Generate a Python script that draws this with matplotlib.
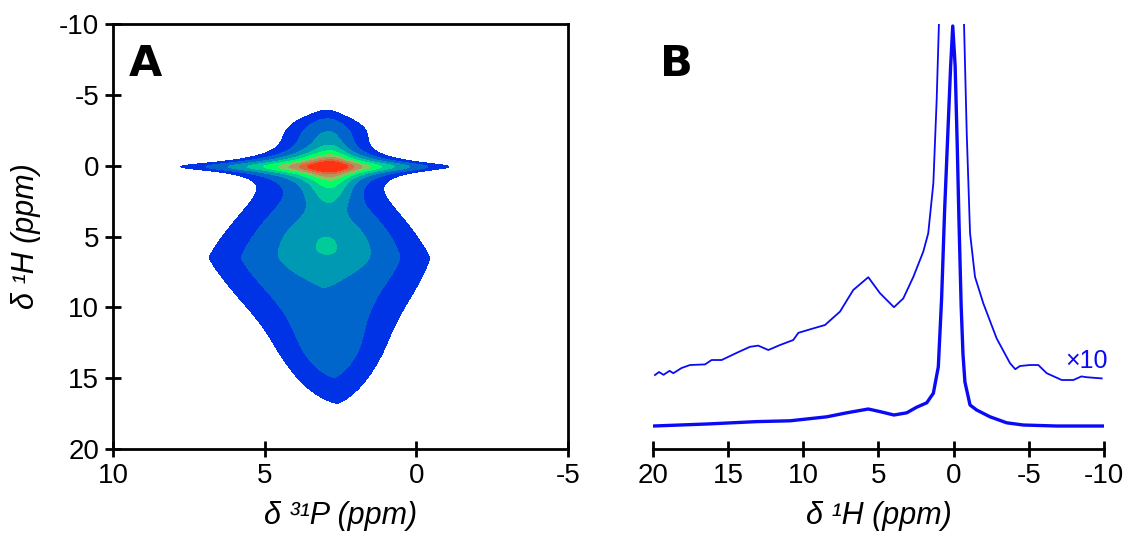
import numpy as np
import matplotlib.pyplot as plt

plt.rcParams.update({'font.size': 20})
plt.rcParams['font.family'] = ['Liberation Sans', 'DejaVu Sans']

# ---------------- panel A: 31P-1H correlation map ----------------
# peaks (ppm); widths: P-left / P-right, H-up / H-down
peak_names = ["streak", "blob", "core", "neck", "cap", "tail"]
peak_amp = [1.0, 0.045, 0.023, 0.025, 0.016, 0.010]
peak_p = [2.84, 3.2, 2.92, 2.84, 2.85, 2.85]
peak_h = [0.07, 6.5, 5.7, 1.6, -2.5, 13.5]
peak_wp_left = [0.67, 2.93, 1.0, 0.45, 1.25, 1.2]
peak_wp_right = [0.52, 2.93, 1.0, 0.45, 1.25, 1.2]
peak_wh_up = [0.32, 6.0, 1.5, 0.95, 0.95, 2.0]
peak_wh_down = [0.32, 7.0, 1.2, 0.95, 0.95, 3.0]
peak_outline = [2.0, 1.2, 2.0, 2.0, 2.0, 2.0]   # superellipse exponent
peak_tilt = [0.0, -0.06, 0.0, 0.0, 0.0, 0.0]    # P drift of the centre below it

levels = [0.021, 0.031, 0.046, 0.068, 0.10, 0.15, 0.22, 0.33, 0.48]
level_colors = ["#0033e6", "#0066cc", "#0099b3", "#00cc99", "#00ff66",
                "#80c860", "#b89060", "#e06535", "#ff3314"]

# ---------------- panel B: 1H projection ----------------
h_x10 = [19.87, 19.6, 19.3, 18.9, 18.65, 18.1, 17.54, 16.54, 16.10, 15.43, 14.43,
         13.55, 13.0, 12.33, 11.55, 10.67, 10.33, 9.34, 8.56, 7.56, 6.68, 5.68,
         4.90, 3.97, 3.35, 2.68, 2.02, 1.69, 1.35, 1.13, 0.98, 0.8, -0.5, -0.69,
         -0.87, -1.09, -1.42, -1.97, -2.86, -3.75, -4.1, -4.41, -5.08, -5.63,
         -6.19, -7.19, -7.96, -8.5, -8.85, -9.85]
i_x10 = [0.1275, 0.135, 0.128, 0.138, 0.132, 0.145, 0.1525, 0.154, 0.165, 0.165,
         0.183, 0.198, 0.201, 0.19, 0.2025, 0.215, 0.233, 0.244, 0.2525, 0.286,
         0.34, 0.372, 0.332, 0.297, 0.319, 0.373, 0.436, 0.482, 0.607, 0.815,
         1.005, 1.3, 1.3, 1.005, 0.7325, 0.4825, 0.373, 0.307, 0.219, 0.157,
         0.142, 0.150, 0.1525, 0.1525, 0.132, 0.115, 0.115, 0.124, 0.122, 0.119]

h_main = [19.98, 16.43, 13.10, 10.89, 8.44, 7.11, 5.68, 4.90, 3.97, 3.12, 2.46,
          1.79, 1.35, 1.02, 0.80, 0.60, 0.40, 0.20, 0.06, -0.10, -0.24, -0.35,
          -0.50, -0.62, -0.75, -1.09, -1.53, -2.42, -3.53, -4.63, -6.85, -9.96]
i_main = [0.0, 0.005, 0.011, 0.013, 0.023, 0.033, 0.0425, 0.036, 0.0275, 0.033,
          0.047, 0.058, 0.082, 0.148, 0.32, 0.54, 0.72, 0.90, 1.0, 0.90, 0.70,
          0.52, 0.30, 0.18, 0.11, 0.0525, 0.04, 0.023, 0.008, 0.0025, 0.0, 0.0]

blue = '#0a0af5'


def peak_field(P, H, i):
    hc = peak_h[i]
    pc = peak_p[i] + peak_tilt[i] * np.clip(H - hc, 0, None)
    dx = (P - pc) / np.where(P > pc, peak_wp_left[i], peak_wp_right[i])
    dy = (H - hc) / np.where(H < hc, peak_wh_up[i], peak_wh_down[i])
    if peak_names[i] == "streak":
        # sharp ridge: Lorentzian in both directions
        return peak_amp[i] / ((1 + dx ** 2) * (1 + dy ** 2))
    e = peak_outline[i]
    rho = (np.abs(dx) ** e + np.abs(dy) ** e) ** (1 / e)
    return peak_amp[i] * np.exp(-0.5 * rho ** 2)


p_axis = np.linspace(10, -5, 700)
h_axis = np.linspace(-10, 20, 700)
P, H = np.meshgrid(p_axis, h_axis)
Z = sum(peak_field(P, H, i) for i in range(len(peak_names)))

fig = plt.figure(figsize=(11.28, 5.4), dpi=100)
axA = fig.add_axes([0.1002, 0.1685, 0.4034, 0.787])
axB = fig.add_axes([0.5789, 0.1685, 0.3998, 0.787])

axA.contourf(P, H, Z, levels=levels + [Z.max() + 1], colors=level_colors)
axA.set_xlim(10, -5)
axA.set_ylim(20, -10)
axA.set_xticks([10, 5, 0, -5])
axA.set_yticks([-10, -5, 0, 5, 10, 15, 20])
axA.set_xticklabels(["10", "5", "0", "-5"])
axA.set_yticklabels(["-10", "-5", "0", "5", "10", "15", "20"])
for s in axA.spines.values():
    s.set_linewidth(2)
axA.tick_params(direction='inout', length=12, width=2, pad=4)
axA.set_xlabel("δ ³¹P (ppm)", style='italic', fontsize=22, labelpad=9)
axA.set_ylabel("δ ¹H (ppm)", style='italic', fontsize=22, labelpad=13)
axA.text(0.035, 0.878, "A", transform=axA.transAxes, fontsize=31,
         fontweight='heavy', family='DejaVu Sans', va='baseline', ha='left')

axB.plot(h_x10, i_x10, color=blue, lw=1.3)
axB.plot(h_main, i_main, color=blue, lw=2.4)
axB.set_xlim(20, -10)
axB.set_ylim(-0.0575, 1.005)
axB.set_xticks([20, 15, 10, 5, 0, -5, -10])
axB.set_xticklabels(["20", "15", "10", "5", "0", "-5", "-10"])
axB.set_yticks([])
for side in ["left", "right", "top"]:
    axB.spines[side].set_visible(False)
axB.spines["bottom"].set_linewidth(2)
axB.tick_params(axis='x', direction='inout', length=12, width=2, pad=4)
axB.set_xlabel("δ ¹H (ppm)", style='italic', fontsize=22, labelpad=9)
axB.text(-7.4, 0.145, "×10", color=blue, fontsize=18, ha='left', va='baseline')
axB.text(0.0155, 0.878, "B", transform=axB.transAxes, fontsize=31,
         fontweight='heavy', family='DejaVu Sans', va='baseline', ha='left')

fig.savefig("out.png", dpi=100)
